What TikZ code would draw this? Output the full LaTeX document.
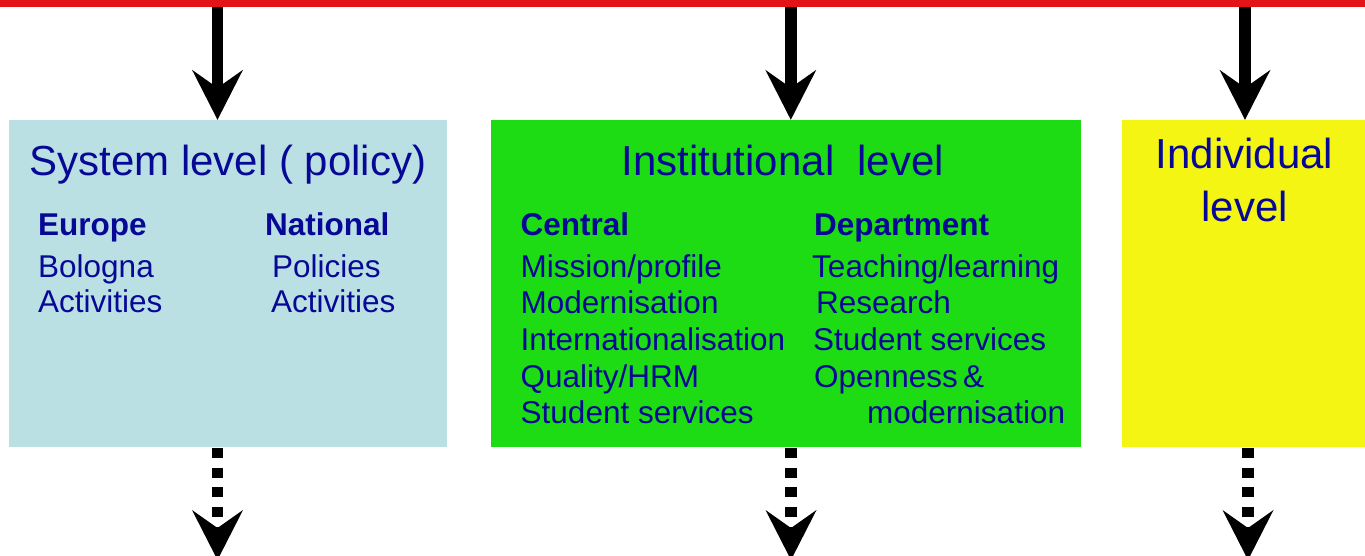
\documentclass[tikz,border=0pt]{standalone}
\usepackage{fontspec}
\setmainfont{Liberation Sans}
\usetikzlibrary{arrows.meta}
\definecolor{barred}{RGB}{228,20,22}
\definecolor{sysblue}{RGB}{187,224,227}
\definecolor{instgreen}{RGB}{30,220,20}
\definecolor{indyellow}{RGB}{245,245,20}
\definecolor{navy}{RGB}{8,8,150}
\tikzset{
  lvlbox/.style={rectangle, inner sep=0pt, minimum height=327pt, draw=none},
  ttl/.style={inner sep=0pt, text=navy, font=\fontsize{42}{53}\selectfont, align=center},
  hd/.style={inner sep=0pt, anchor=base west, text=navy, font=\fontsize{31.5}{36}\selectfont\bfseries},
  itm/.style={inner sep=0pt, anchor=base west, text=navy, font=\fontsize{31.5}{36}\selectfont},
  bigtip/.tip={Stealth[length=50pt,width=51pt,inset=18pt,line width'=0pt]},
  solidarrow/.style={line width=11.5pt, -bigtip},
  dottedarrow/.style={line width=11.5pt, -bigtip, dash pattern=on 10pt off 9.6pt}
}
\begin{document}
\begin{tikzpicture}[x=1pt,y=-1pt]
\useasboundingbox (0,0) rectangle (1365,555);
\clip (0,0) rectangle (1365,555);
% red bar
\node[rectangle, fill=barred, inner sep=0pt, minimum width=1365pt, minimum height=7.3pt] (bar) at (682.5,3.65) {};
% boxes
\node[lvlbox, fill=sysblue, minimum width=438pt] (sys) at (228,283.5) {};
\node[lvlbox, fill=instgreen, minimum width=590pt] (inst) at (786,283.5) {};
\node[lvlbox, fill=indyellow, minimum width=243pt] (ind) at (1243.5,283.5) {};
% titles
\node[ttl, anchor=base] (systtl) at (228,175.5) {System level ( policy)};
\node[ttl, anchor=base] (insttl) at (783,175.5) {Institutional\ \ level};
\node[ttl, anchor=base] (indttl1) at (1244.5,168) {Individual};
\node[ttl, anchor=base] (indttl2) at (1244.5,221) {level};
% system level columns
\node[hd] (eu) at (38,235.5) {Europe};
\node[itm] (eu1) at (38,277) {Bologna};
\node[itm] (eu2) at (38,312.5) {Activities};
\node[hd] (nat) at (265,235.5) {National};
\node[itm] (nat1) at (272,277) {Policies};
\node[itm] (nat2) at (271,312.5) {Activities};
% institutional columns
\node[hd] (cen) at (520.5,235.5) {Central};
\node[itm] (cen1) at (520.5,277) {Mission/profile};
\node[itm] (cen2) at (520.5,313) {Modernisation};
\node[itm] (cen3) at (520.5,350) {Internationalisation};
\node[itm] (cen4) at (520.5,387.5) {Quality/HRM};
\node[itm] (cen5) at (520.5,423.5) {Student services};
\node[hd] (dep) at (814,235.5) {Department};
\node[itm] (dep1) at (812,277) {Teaching/learning};
\node[itm] (dep2) at (816,313) {Research};
\node[itm] (dep3) at (813,350) {Student services};
\node[itm] (dep4) at (814,387.5) {Openness\,\&};
\node[itm] (dep5) at (867,423.5) {modernisation};
% arrow start/end coordinates
\coordinate (a1) at (217.5,7);
\coordinate (a2) at (790.8,7);
\coordinate (a3) at (1245,7);
\coordinate (b1) at (217.5,560);
\coordinate (b2) at (791,560);
\coordinate (b3) at (1248,560);
% solid arrows from the bar
\draw[solidarrow] (a1) -- (a1 |- sys.north);
\draw[solidarrow] (a2) -- (a2 |- inst.north);
\draw[solidarrow] (a3) -- (a3 |- ind.north);
% dotted arrows below
\draw[dottedarrow] ([yshift=-1pt]b1 |- sys.south) -- (b1);
\draw[dottedarrow] ([yshift=-1pt]b2 |- inst.south) -- (b2);
\draw[dottedarrow] ([yshift=-1pt]b3 |- ind.south) -- (b3);
\end{tikzpicture}
\end{document}
